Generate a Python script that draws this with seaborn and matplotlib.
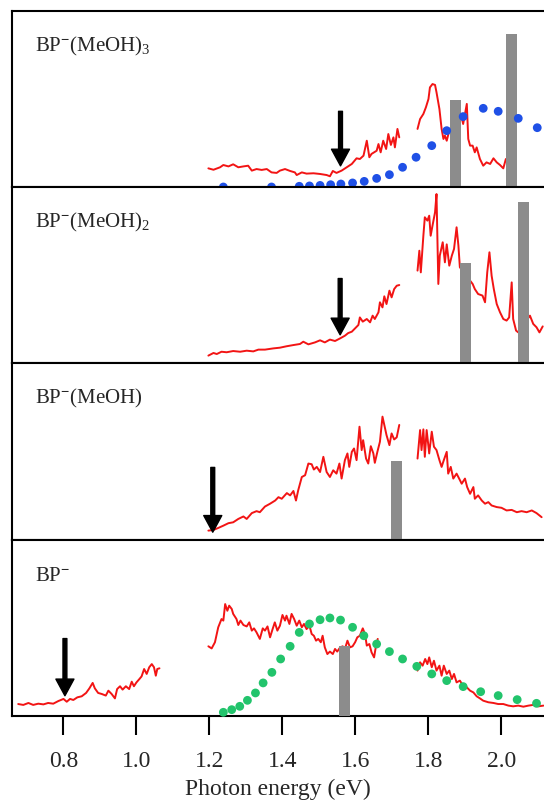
import matplotlib
matplotlib.use("Agg")

import matplotlib.pyplot as plt
import numpy as np
import pandas as pd
import seaborn as sns

# Values: x = photon energy (eV), y = signal scaled to panel height
PANEL_LABELS = [
    r"BP$^{\mathbf{-}}$(MeOH)$_{3}$",
    r"BP$^{\mathbf{-}}$(MeOH)$_{2}$",
    r"BP$^{\mathbf{-}}$(MeOH)",
    r"BP$^{\mathbf{-}}$",
]

# --- BP-(MeOH)3 ---
meoh3_red_a = [
    (1.197, 0.106), (1.211, 0.098), (1.229, 0.112), (1.238, 0.125), (1.252, 0.117),
    (1.265, 0.129), (1.279, 0.112), (1.293, 0.117), (1.306, 0.121), (1.316, 0.093),
    (1.329, 0.102), (1.343, 0.097), (1.357, 0.102), (1.370, 0.083), (1.384, 0.080),
    (1.393, 0.093), (1.407, 0.102), (1.421, 0.091), (1.434, 0.083), (1.439, 0.068),
    (1.453, 0.083), (1.466, 0.076), (1.485, 0.078), (1.503, 0.074), (1.521, 0.068),
    (1.530, 0.061), (1.538, 0.091), (1.548, 0.080), (1.562, 0.093), (1.576, 0.112),
    (1.590, 0.131), (1.603, 0.163), (1.612, 0.159), (1.622, 0.178), (1.631, 0.263),
    (1.638, 0.169), (1.644, 0.188), (1.658, 0.206), (1.663, 0.244), (1.669, 0.197),
    (1.676, 0.263), (1.684, 0.216), (1.690, 0.301), (1.697, 0.239), (1.704, 0.282),
    (1.708, 0.225), (1.715, 0.330), (1.720, 0.282),
]
meoh3_red_b = [
    (1.770, 0.330), (1.777, 0.386), (1.786, 0.415), (1.793, 0.453), (1.800, 0.500),
    (1.804, 0.566), (1.811, 0.585), (1.818, 0.580), (1.822, 0.538), (1.830, 0.443),
    (1.836, 0.330), (1.841, 0.273), (1.845, 0.292), (1.850, 0.263), (1.857, 0.320),
    (1.868, 0.311), (1.891, 0.396), (1.895, 0.358), (1.905, 0.472), (1.909, 0.273),
    (1.914, 0.235), (1.921, 0.235), (1.927, 0.197), (1.932, 0.225), (1.941, 0.159),
    (1.950, 0.121), (1.959, 0.140), (1.969, 0.131), (1.978, 0.163), (1.987, 0.140),
    (1.996, 0.125), (2.005, 0.106), (2.012, 0.159),
]
meoh3_calc_ev = [1.238, 1.370, 1.446, 1.474, 1.503, 1.532, 1.560, 1.592, 1.624, 1.658,
                 1.693, 1.729, 1.766, 1.809, 1.850, 1.895, 1.950, 1.991, 2.046, 2.098]
meoh3_calc_sig = [0.0, 0.0, 0.004, 0.006, 0.009, 0.013, 0.017, 0.023, 0.032, 0.049,
                  0.070, 0.112, 0.169, 0.235, 0.320, 0.400, 0.447, 0.430, 0.390, 0.337]
meoh3_bar_ev = [1.873, 2.028]
meoh3_bar_sig = [0.496, 0.870]

# --- BP-(MeOH)2 ---
meoh2_red_a = [
    (1.197, 0.042), (1.211, 0.057), (1.220, 0.051), (1.233, 0.064), (1.247, 0.061),
    (1.265, 0.068), (1.284, 0.064), (1.302, 0.070), (1.320, 0.066), (1.334, 0.076),
    (1.352, 0.076), (1.375, 0.083), (1.393, 0.087), (1.411, 0.095), (1.430, 0.102),
    (1.448, 0.108), (1.457, 0.121), (1.471, 0.106), (1.489, 0.117), (1.503, 0.129),
    (1.516, 0.117), (1.530, 0.133), (1.544, 0.125), (1.558, 0.140), (1.571, 0.155),
    (1.580, 0.170), (1.590, 0.178), (1.599, 0.197), (1.608, 0.216), (1.612, 0.259),
    (1.620, 0.235), (1.631, 0.250), (1.640, 0.231), (1.647, 0.269), (1.653, 0.250),
    (1.663, 0.288), (1.667, 0.345), (1.674, 0.316), (1.679, 0.379), (1.685, 0.335),
    (1.693, 0.411), (1.699, 0.373), (1.706, 0.420), (1.713, 0.439), (1.720, 0.443),
]
meoh2_red_b = [
    (1.770, 0.525), (1.775, 0.638), (1.779, 0.515), (1.786, 0.723), (1.790, 0.828),
    (1.797, 0.809), (1.802, 0.837), (1.806, 0.723), (1.811, 0.780), (1.818, 0.856),
    (1.822, 0.960), (1.827, 0.449), (1.831, 0.610), (1.839, 0.686), (1.845, 0.572),
    (1.850, 0.674), (1.857, 0.553), (1.864, 0.610), (1.870, 0.648), (1.877, 0.771),
    (1.882, 0.667), (1.886, 0.544), (1.921, 0.449), (1.927, 0.420), (1.936, 0.392),
    (1.948, 0.383), (1.955, 0.345), (1.961, 0.515), (1.967, 0.629), (1.973, 0.496),
    (1.979, 0.420), (1.987, 0.335), (1.996, 0.288), (2.005, 0.250), (2.014, 0.241),
    (2.021, 0.259), (2.028, 0.458), (2.032, 0.250), (2.040, 0.184), (2.046, 0.174),
    (2.078, 0.269), (2.087, 0.222), (2.096, 0.203), (2.104, 0.174), (2.113, 0.208),
]
meoh2_bar_ev = [1.902, 2.061]
meoh2_bar_sig = [0.568, 0.913]

# --- BP-(MeOH) ---
meoh1_red_a = [
    (1.197, 0.053), (1.211, 0.057), (1.224, 0.068), (1.238, 0.081), (1.252, 0.095),
    (1.265, 0.100), (1.279, 0.119), (1.293, 0.133), (1.302, 0.119), (1.316, 0.152),
    (1.329, 0.163), (1.338, 0.157), (1.352, 0.189), (1.366, 0.205), (1.380, 0.223),
    (1.389, 0.242), (1.398, 0.233), (1.412, 0.265), (1.421, 0.252), (1.430, 0.277),
    (1.437, 0.223), (1.443, 0.280), (1.453, 0.356), (1.462, 0.366), (1.471, 0.432),
    (1.480, 0.428), (1.486, 0.398), (1.494, 0.413), (1.503, 0.384), (1.512, 0.470),
    (1.521, 0.384), (1.530, 0.356), (1.539, 0.394), (1.548, 0.375), (1.556, 0.432),
    (1.562, 0.347), (1.571, 0.451), (1.578, 0.489), (1.583, 0.413), (1.590, 0.498),
    (1.596, 0.517), (1.603, 0.451), (1.611, 0.640), (1.617, 0.508), (1.621, 0.564),
    (1.629, 0.460), (1.635, 0.432), (1.642, 0.530), (1.649, 0.489), (1.653, 0.436),
    (1.660, 0.498), (1.667, 0.555), (1.674, 0.697), (1.681, 0.631), (1.685, 0.593),
    (1.693, 0.536), (1.699, 0.602), (1.706, 0.568), (1.713, 0.580), (1.720, 0.650),
]
meoh1_red_b = [
    (1.770, 0.460), (1.777, 0.621), (1.781, 0.508), (1.786, 0.625), (1.790, 0.470),
    (1.795, 0.621), (1.802, 0.489), (1.809, 0.612), (1.815, 0.527), (1.822, 0.508),
    (1.830, 0.451), (1.836, 0.413), (1.842, 0.451), (1.850, 0.498), (1.854, 0.375),
    (1.861, 0.413), (1.868, 0.347), (1.877, 0.375), (1.884, 0.347), (1.891, 0.318),
    (1.900, 0.347), (1.906, 0.299), (1.914, 0.261), (1.923, 0.299), (1.927, 0.233),
    (1.936, 0.252), (1.946, 0.223), (1.955, 0.205), (1.964, 0.214), (1.973, 0.195),
    (1.987, 0.186), (2.000, 0.182), (2.014, 0.167), (2.028, 0.170), (2.042, 0.157),
    (2.055, 0.163), (2.069, 0.157), (2.083, 0.167), (2.096, 0.152), (2.110, 0.129),
]
meoh1_bar_ev = [1.713]
meoh1_bar_sig = [0.445]

# --- bare BP- ---
bare_red_a = [
    (0.676, 0.068), (0.690, 0.063), (0.704, 0.074), (0.717, 0.063), (0.731, 0.070),
    (0.745, 0.066), (0.758, 0.074), (0.772, 0.070), (0.786, 0.085), (0.800, 0.097),
    (0.809, 0.081), (0.818, 0.097), (0.827, 0.091), (0.838, 0.106), (0.850, 0.112),
    (0.862, 0.131), (0.871, 0.157), (0.880, 0.188), (0.886, 0.157), (0.895, 0.131),
    (0.905, 0.125), (0.916, 0.116), (0.923, 0.144), (0.932, 0.125), (0.941, 0.100),
    (0.947, 0.153), (0.955, 0.169), (0.962, 0.150), (0.971, 0.169), (0.980, 0.153),
    (0.987, 0.195), (0.993, 0.169), (1.000, 0.191), (1.008, 0.210), (1.014, 0.225),
    (1.021, 0.267), (1.028, 0.239), (1.035, 0.277), (1.042, 0.295), (1.048, 0.277),
    (1.053, 0.229), (1.057, 0.267), (1.063, 0.271),
]
bare_red_b = [
    (1.197, 0.396), (1.206, 0.384), (1.215, 0.419), (1.224, 0.504), (1.233, 0.551),
    (1.238, 0.542), (1.243, 0.636), (1.249, 0.598), (1.254, 0.627), (1.261, 0.608),
    (1.265, 0.580), (1.274, 0.551), (1.279, 0.517), (1.285, 0.542), (1.293, 0.517),
    (1.302, 0.509), (1.309, 0.532), (1.316, 0.485), (1.322, 0.498), (1.329, 0.475),
    (1.338, 0.438), (1.346, 0.498), (1.352, 0.485), (1.359, 0.509), (1.366, 0.447),
    (1.373, 0.494), (1.379, 0.532), (1.386, 0.485), (1.393, 0.513), (1.400, 0.574),
    (1.407, 0.542), (1.411, 0.570), (1.419, 0.523), (1.425, 0.580), (1.432, 0.551),
    (1.439, 0.513), (1.446, 0.542), (1.453, 0.504), (1.459, 0.523), (1.466, 0.494),
    (1.474, 0.513), (1.480, 0.466), (1.486, 0.456), (1.492, 0.428), (1.498, 0.438),
    (1.505, 0.419), (1.510, 0.456), (1.516, 0.390), (1.523, 0.352), (1.530, 0.366),
    (1.538, 0.352), (1.544, 0.381), (1.550, 0.366), (1.558, 0.390), (1.565, 0.396),
    (1.571, 0.381), (1.578, 0.428), (1.585, 0.390), (1.592, 0.396), (1.599, 0.419),
    (1.605, 0.447), (1.612, 0.456), (1.620, 0.498), (1.626, 0.466), (1.631, 0.400),
    (1.638, 0.409), (1.644, 0.362), (1.651, 0.333), (1.656, 0.396), (1.661, 0.438),
]
bare_red_c = [
    (1.770, 0.258), (1.777, 0.305), (1.784, 0.286), (1.791, 0.324), (1.797, 0.295),
    (1.802, 0.333), (1.809, 0.277), (1.815, 0.314), (1.822, 0.258), (1.830, 0.286),
    (1.836, 0.229), (1.842, 0.286), (1.850, 0.239), (1.857, 0.258), (1.864, 0.210),
    (1.870, 0.239), (1.877, 0.191), (1.886, 0.201), (1.895, 0.172), (1.905, 0.163),
    (1.914, 0.144), (1.923, 0.134), (1.932, 0.112), (1.941, 0.100), (1.950, 0.087),
    (1.964, 0.078), (1.978, 0.074), (1.991, 0.068), (2.005, 0.068), (2.019, 0.059),
    (2.032, 0.055), (2.046, 0.059), (2.060, 0.053), (2.074, 0.059), (2.087, 0.063),
    (2.101, 0.055), (2.115, 0.059),
]
bare_calc_ev = [1.238, 1.261, 1.283, 1.304, 1.326, 1.347, 1.371, 1.395, 1.421, 1.446,
                1.474, 1.503, 1.530, 1.559, 1.592, 1.623, 1.658, 1.693, 1.729, 1.768,
                1.809, 1.850, 1.895, 1.943, 1.991, 2.043, 2.096]
bare_calc_sig = [0.021, 0.036, 0.055, 0.089, 0.131, 0.188, 0.248, 0.324, 0.396, 0.475,
                 0.523, 0.547, 0.557, 0.545, 0.504, 0.456, 0.409, 0.366, 0.324, 0.282,
                 0.239, 0.201, 0.167, 0.138, 0.116, 0.093, 0.072]
bare_bar_ev = [1.571]
bare_bar_sig = [0.396]

# detachment thresholds (arrows): energy, signal at tip, signal at tail
arrow_ev = [1.559, 1.558, 1.209, 0.804]
arrow_tip = [0.12, 0.16, 0.044, 0.115]
arrow_tail = [0.43, 0.48, 0.41, 0.44]

TICKS = [0.8, 1.0, 1.2, 1.4, 1.6, 1.8, 2.0]

RED = "#f21414"
GREY = "#8c8c8c"
BLUE = "#1f50e6"
GREEN = "#22c46c"


def segments_to_frame(segments):
    """Stack line segments into one long frame with a segment id."""
    rows = []
    for seg_id, seg in enumerate(segments):
        for ev, sig in seg:
            rows.append({"ev": ev, "sig": sig, "seg": seg_id})
    return pd.DataFrame(rows)


sns.set_style("white")
plt.rcParams["font.family"] = ["Liberation Serif", "DejaVu Serif"]
plt.rcParams["mathtext.fontset"] = "custom"
plt.rcParams["mathtext.rm"] = "Liberation Serif"
plt.rcParams["mathtext.bf"] = "Liberation Serif:bold"
plt.rcParams["mathtext.default"] = "rm"

panels = [
    ([meoh3_red_a, meoh3_red_b], (meoh3_calc_ev, meoh3_calc_sig, BLUE), (meoh3_bar_ev, meoh3_bar_sig)),
    ([meoh2_red_a, meoh2_red_b], None, (meoh2_bar_ev, meoh2_bar_sig)),
    ([meoh1_red_a, meoh1_red_b], None, (meoh1_bar_ev, meoh1_bar_sig)),
    ([bare_red_a, bare_red_b, bare_red_c], (bare_calc_ev, bare_calc_sig, GREEN), (bare_bar_ev, bare_bar_sig)),
]

fig = plt.figure(figsize=(5.44, 8.03), dpi=100)
W, H = 544.0, 803.0
left_px = 12.0
edges_px = [12.0, 188.0, 364.0, 541.0, 717.0]

axes = []
for i in range(4):
    top, bottom = edges_px[i], edges_px[i + 1]
    ax = fig.add_axes([left_px / W, 1 - bottom / H, 1 - left_px / W, (bottom - top) / H])
    axes.append(ax)

for i, (ax, (red_segs, calc, bars)) in enumerate(zip(axes, panels)):
    df = segments_to_frame(red_segs)
    sns.lineplot(data=df, x="ev", y="sig", units="seg", estimator=None, sort=False,
                 color=RED, linewidth=1.4, ax=ax, legend=False, zorder=2)
    ax.bar(bars[0], bars[1], width=0.03, color=GREY, linewidth=0, zorder=3)
    if calc is not None:
        sns.scatterplot(x=calc[0], y=calc[1], color=calc[2], s=40, edgecolor="none",
                        ax=ax, legend=False, zorder=4, clip_on=False)
    ax.annotate("", xy=(arrow_ev[i], arrow_tip[i]), xytext=(arrow_ev[i], arrow_tail[i]),
                arrowprops=dict(facecolor="black", edgecolor="black", width=2.8,
                                headwidth=13, headlength=12, shrink=0), zorder=5)
    ax.text(0.043, 0.775, PANEL_LABELS[i], transform=ax.transAxes, fontsize=15,
            va="baseline", ha="left")

    ax.set_xlim(0.659, 2.1165)
    ax.set_ylim(0, 1)
    ax.set_yticks([])
    ax.set_ylabel("")
    ax.set_xlabel("")
    for side in ("left", "top", "bottom"):
        ax.spines[side].set_color("black")
        ax.spines[side].set_linewidth(1.5)
    ax.spines["right"].set_visible(False)
    if i < 3:
        ax.set_xticks([])
    else:
        ax.set_xticks(TICKS)
        ax.set_xticklabels([f"{t:.1f}" for t in TICKS])
        ax.tick_params(axis="x", direction="out", length=13.5, width=1.5,
                       labelsize=17, pad=11, bottom=True, color="black")
        ax.set_xlabel("Photon energy (eV)", fontsize=17, labelpad=5)

fig.savefig("out.png", dpi=100)
plt.close(fig)
